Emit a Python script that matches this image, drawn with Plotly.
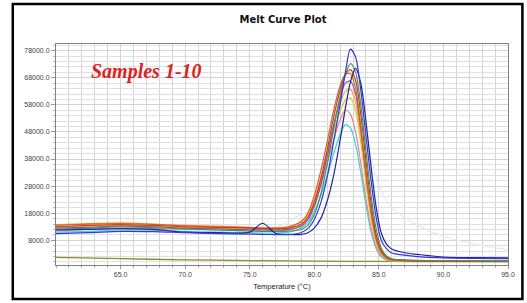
import plotly.graph_objects as go

temps = [60, 62.5, 65, 67.5, 70, 72.5, 75, 76, 77, 78, 79, 79.5, 80, 80.5, 81, 81.5,
         82, 82.4, 82.8, 83.2, 83.6, 84, 84.4, 84.8, 85.2, 85.6, 86, 87, 88, 90, 92.5, 95]

faint = [12000, 12300, 12600, 12500, 12200, 12000, 11800, 11900, 12500, 15000, 17500, 18500, 20000, 24000, 31000, 40000,
         50000, 58000, 64000, 62000, 55000, 46000, 38000, 31000, 26000, 22500, 20000, 16500, 13500, 9500, 6500, 4500]

s_blue = [10500, 10800, 11300, 11200, 10800, 10500, 10300, 10200, 10100, 10100, 10900, 12300, 15700, 21800, 31400, 44500,
          58200, 69800, 78600, 75600, 63500, 46700, 29900, 16200, 7800, 4800, 3300, 2500, 2000, 1500, 1300, 1200]
s_navy = [11800, 12000, 12300, 12000, 11000, 10800, 11000, 14300, 10600, 10200, 10200, 10800, 12500, 16000, 22500, 32000,
          45000, 56500, 66500, 71500, 66000, 52000, 35000, 20000, 10500, 6500, 4800, 3400, 2800, 1800, 1600, 1500]
s_green = [12000, 12500, 13000, 12700, 12200, 11800, 11500, 11300, 11300, 11400, 12000, 13500, 17500, 25000, 36000, 49000,
           61000, 69000, 73200, 70000, 58000, 41000, 24500, 12000, 5000, 2200, 1200, 800, 600, 500, 400, 300]
s_red = [13000, 13500, 13800, 13500, 13000, 12800, 12500, 12300, 12200, 12500, 14000, 16500, 22000, 30500, 41500, 53500,
         63500, 69000, 71000, 67000, 54500, 37500, 21500, 10000, 4200, 1800, 900, 500, 300, 200, 200, 200]
s_brown = [13500, 14000, 14200, 13900, 13300, 13000, 12700, 12500, 12500, 13000, 15000, 18000, 24500, 33500, 44500, 56000,
           65000, 69200, 69500, 64000, 50000, 33000, 18500, 8500, 3500, 1500, 800, 500, 400, 300, 300, 300]
s_purple = [12500, 12800, 13200, 13000, 12500, 12200, 11900, 11800, 11800, 12000, 13200, 15500, 20500, 28500, 39000, 50500,
            60500, 66000, 66800, 62000, 49000, 33000, 18500, 8500, 3500, 1600, 900, 600, 500, 400, 400, 400]
s_orange = [13800, 14200, 14400, 14000, 13500, 13200, 12800, 12600, 12600, 13000, 14800, 17500, 23000, 31000, 40500, 50500,
            58500, 63000, 63800, 59000, 46500, 31000, 17000, 7500, 3000, 1200, 600, 400, 300, 300, 300, 300]
s_gold = [12800, 13200, 13600, 13300, 12800, 12500, 12200, 12000, 12000, 12300, 14000, 16600, 21800, 29500, 38500, 48000,
          55500, 59800, 60500, 56000, 44000, 29000, 16000, 7000, 2800, 1100, 600, 400, 300, 300, 300, 300]
s_pink = [11500, 12000, 12500, 12400, 12000, 11800, 11500, 11400, 11400, 11800, 13500, 16000, 21000, 28000, 36500, 45000,
          52500, 56000, 54500, 48000, 36500, 23500, 12500, 5500, 2200, 900, 500, 300, 300, 300, 300, 300]
s_cyan = [11000, 11300, 11800, 11700, 11300, 11000, 10800, 10700, 10700, 11000, 12500, 14500, 18500, 24500, 32000, 40000,
          47000, 50700, 49500, 43500, 33000, 21000, 11000, 4800, 1800, 700, 400, 300, 300, 300, 300, 300]

ntc_temps = [60, 65, 70, 75, 80, 85, 90, 95]
ntc_vals = [1700, 1200, 800, 500, 300, 200, 100, 50]

x_ticks = [65, 70, 75, 80, 85, 90, 95]
x_labels = ["65.0", "70.0", "75.0", "80.0", "85.0", "90.0", "95.0"]
y_ticks = [8000, 18000, 28000, 38000, 48000, 58000, 68000, 78000]
y_labels = ["8000.0", "18000.0", "28000.0", "38000.0", "48000.0", "58000.0", "68000.0", "78000.0"]

series = [
    ("faint", faint, "#e8e8e8"),
    ("cyan", s_cyan, "#3fd0e0"),
    ("pink", s_pink, "#d98c8c"),
    ("gold", s_gold, "#e8c048"),
    ("orange", s_orange, "#f5a030"),
    ("purple", s_purple, "#8a4fb0"),
    ("brown", s_brown, "#c8692a"),
    ("red", s_red, "#d83a20"),
    ("green", s_green, "#3c9c55"),
    ("navy", s_navy, "#22229a"),
    ("blue", s_blue, "#3535d8"),
]

fig = go.Figure()
fig.add_trace(go.Scatter(x=ntc_temps, y=ntc_vals, mode="lines",
                         line=dict(color="#8c8c28", width=1.3, shape="spline"), showlegend=False))
for name, vals, col in series:
    fig.add_trace(go.Scatter(x=temps, y=vals, mode="lines", name=name,
                             line=dict(color=col, width=1.2, shape="spline", smoothing=0.8),
                             showlegend=False))

L, R, T, B = 56, 16, 44, 38
W, H = 527, 303
pw, ph = W - L - R, H - T - B

def px(xp):
    return (xp - L) / pw

def py(yp):
    return (H - B - yp) / ph

fig.add_shape(type="rect", xref="paper", yref="paper",
              x0=px(12.5), x1=px(525.5), y0=py(299), y1=py(4),
              line=dict(color="black", width=2.5), layer="below")

fig.add_annotation(text="<b><i>Samples 1-10</i></b>", xref="paper", yref="paper",
                   x=px(89), y=py(71), xanchor="left", yanchor="middle", showarrow=False,
                   font=dict(family="Liberation Serif", size=20, color="#dc2323"))

fig.update_layout(
    width=W, height=H,
    margin=dict(l=L, r=R, t=T, b=B),
    paper_bgcolor="white", plot_bgcolor="white",
    title=dict(text="<b>Melt Curve Plot</b>", x=283 / W, xanchor="center", y=1 - 19 / H, yanchor="middle",
               font=dict(family="DejaVu Sans", size=10, color="#111")),
    font=dict(family="Liberation Sans", size=7, color="#333"),
    xaxis=dict(range=[60, 95], tickvals=x_ticks, ticktext=x_labels,
               showgrid=True, gridcolor="#d4d4d4", gridwidth=1,
               showline=True, linecolor="#808080", linewidth=1, mirror=True,
               ticks="outside", ticklen=3, tickcolor="#999", zeroline=False,
               minor=dict(dtick=1, tick0=60, showgrid=True, gridcolor="#d4d4d4", ticks="outside",
                          ticklen=2, tickcolor="#aaa"),
               title=dict(text="Temperature (°C)", font=dict(size=7.5, color="#222"), standoff=6),
               tickfont=dict(size=7, color="#444")),
    yaxis=dict(range=[-1120, 80470], tickvals=y_ticks, ticktext=y_labels,
               showgrid=True, gridcolor="#d4d4d4", gridwidth=1,
               showline=True, linecolor="#808080", linewidth=1, mirror=True,
               ticks="outside", ticklen=4, tickcolor="#999", zeroline=False,
               minor=dict(dtick=2000, tick0=0, showgrid=True, gridcolor="#e0e0e0", ticks="outside",
                          ticklen=2, tickcolor="#bbb"),
               tickfont=dict(size=7, color="#444")),
)

fig.write_html("out.html", config={"displayModeBar": False},
               post_script="document.body.style.margin='0';document.body.style.overflow='hidden';")
